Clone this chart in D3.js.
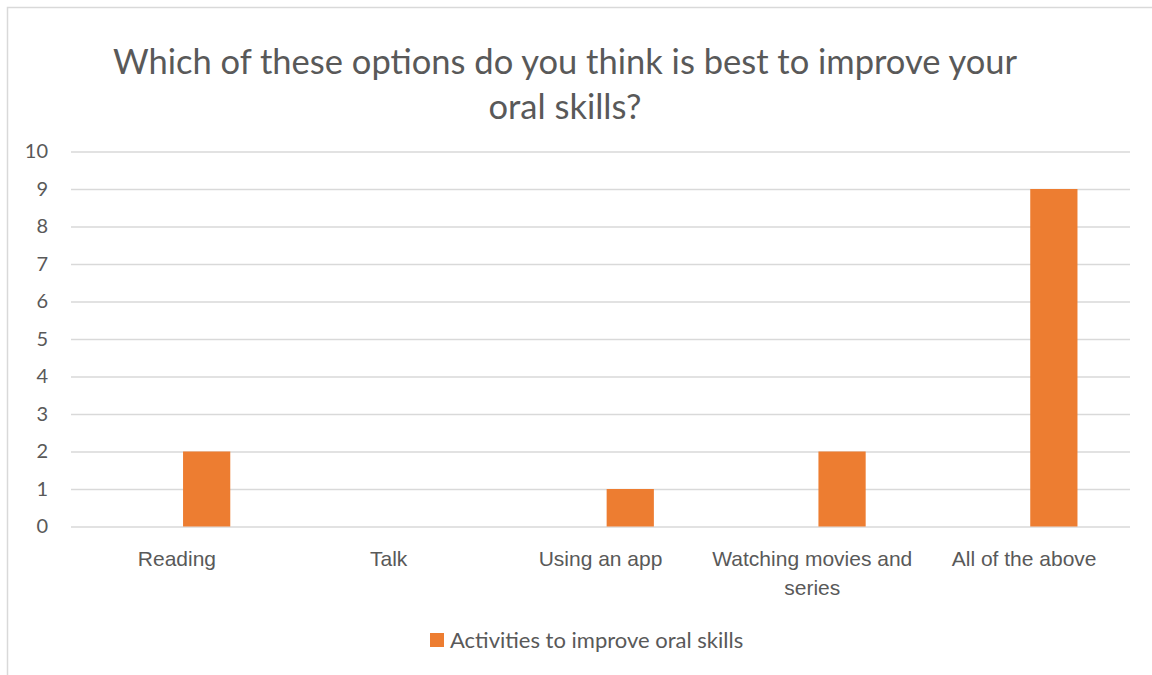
<!DOCTYPE html>
<html>
<head>
<meta charset="utf-8">
<script src="https://cdn.jsdelivr.net/npm/d3@7"></script>
<style>
  html, body { margin: 0; padding: 0; background: #fff; }
  svg { display: block; font-family: Lato, "Open Sans", sans-serif; }
</style>
</head>
<body>
<svg id="chart" width="1152" height="675"></svg>
<script>
// Survey answers
const categories = ["Reading", "Talk", "Using an app", "Watching movies and series", "All of the above"];
const values = [2, 0, 1, 2, 9];
const seriesName = "Activities to improve oral skills";
const yTicks = [0, 1, 2, 3, 4, 5, 6, 7, 8, 9, 10];
const titleLines = ["Which of these options do you think is best to improve your", "oral skills?"];

const textColor = "#595959";
const gridColor = "#D9D9D9";
const barColor = "#ED7D31";

const svg = d3.select("#chart");

// outer frame
svg.append("path")
  .attr("d", "M7.5,675 L7.5,7.5 L1152,7.5")
  .attr("fill", "none")
  .attr("stroke", gridColor)
  .attr("stroke-width", 1.5);

const plot = { left: 71, right: 1130, top: 151.5, bottom: 526.5 };

const x = d3.scaleBand().domain(categories).range([plot.left, plot.right]).padding(0);
const y = d3.scaleLinear().domain([0, 10]).range([plot.bottom, plot.top]);

// title
const title = svg.append("text")
  .attr("text-anchor", "middle")
  .attr("fill", textColor)
  .attr("font-size", 34.5);
titleLines.forEach((t, i) => {
  title.append("tspan").attr("x", 565).attr("y", 74 + i * 45).text(t);
});

// horizontal gridlines + y tick labels
const yAxis = d3.axisLeft(y).tickValues(yTicks).tickSize(-(plot.right - plot.left)).tickPadding(23).tickFormat(d3.format("d"));
const gy = svg.append("g").attr("transform", `translate(${plot.left},0)`).call(yAxis);
gy.select(".domain").remove();
gy.selectAll(".tick line").attr("stroke", gridColor).attr("stroke-width", 1.5);
gy.selectAll(".tick text").attr("fill", textColor).attr("font-size", 20).attr("font-family", "Lato, sans-serif");

// bars: the series sits right of centre in each category slot
const bw = x.bandwidth();
svg.append("g").selectAll("rect")
  .data(categories.map((c, i) => ({ c, v: values[i] })))
  .join("rect")
  .attr("x", d => x(d.c) + bw * 0.529)
  .attr("width", bw * 0.223)
  .attr("y", d => y(d.v))
  .attr("height", d => y(0) - y(d.v))
  .attr("fill", barColor);

// category labels with word wrapping
const xAxis = d3.axisBottom(x).tickSize(0).tickPadding(0);
const gx = svg.append("g").attr("transform", `translate(0,${plot.bottom})`).call(xAxis);
gx.select(".domain").remove();
gx.selectAll(".tick text").remove();
gx.selectAll(".tick").each(function (d) {
  const t = d3.select(this).append("text")
    .attr("text-anchor", "middle")
    .attr("fill", textColor)
    .attr("font-size", 21)
    .attr("y", 39);
  const words = d.split(" ");
  let line = [];
  let tspan = t.append("tspan").attr("x", 0).attr("dy", 0);
  words.forEach(w => {
    line.push(w);
    tspan.text(line.join(" "));
    if (tspan.node().getComputedTextLength() > bw - 2 && line.length > 1) {
      line.pop();
      tspan.text(line.join(" "));
      line = [w];
      tspan = t.append("tspan").attr("x", 0).attr("dy", 29).text(w);
    }
  });
});

// legend
const legend = svg.append("g").attr("transform", "translate(430,633)");
legend.append("rect").attr("width", 14).attr("height", 14).attr("fill", barColor);
legend.append("text")
  .attr("x", 20).attr("y", 14.5)
  .attr("fill", textColor)
  .attr("font-size", 22)
  .text(seriesName);
</script>
</body>
</html>
